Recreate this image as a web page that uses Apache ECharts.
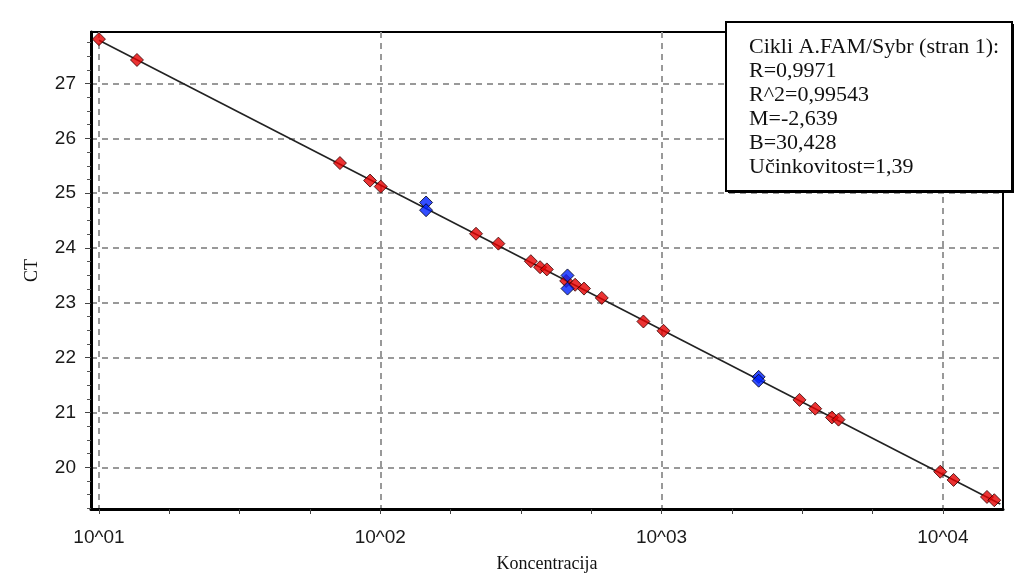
<!DOCTYPE html>
<html>
<head>
<meta charset="utf-8">
<script src="https://cdn.jsdelivr.net/npm/echarts@6/dist/echarts.min.js"></script>
<style>
  body { margin: 0; padding: 0; background: #fff; }
  #chart { width: 1017px; height: 578px; }
</style>
</head>
<body>
<div id="chart"></div>
<script>
// standard points (red) - koncentracija / CT
const redConc = [10, 13.65, 71.9, 92.0, 100.4, 219, 263, 343, 370, 391, 458, 493, 530, 613, 862, 1016, 3093, 3517, 4033, 4257, 9789, 10914, 14349, 15234];
const redCT = [27.81, 27.43, 25.55, 25.23, 25.12, 24.26, 24.08, 23.76, 23.65, 23.61, 23.40, 23.33, 23.26, 23.09, 22.66, 22.49, 21.23, 21.07, 20.91, 20.87, 19.92, 19.77, 19.46, 19.40];
// unknown samples (blue)
const blueConc = [145.5, 145.5, 463, 463, 2214, 2214];
const blueCT = [24.83, 24.69, 23.50, 23.26, 21.65, 21.58];
// regression line ends
const lineConc = [10, 16000];
const lineCT = [27.79, 19.33];

// ticks
const xMajor = [10, 100, 1000, 10000];
const xLabels = ["10^01", "10^02", "10^03", "10^04"];
const xMinor = [17.78, 31.62, 56.23, 177.8, 316.2, 562.3, 1778, 3162, 5623];
const yMajor = [20, 21, 22, 23, 24, 25, 26, 27];
const yMinor = [19.25, 19.5, 19.75, 20.25, 20.5, 20.75, 21.25, 21.5, 21.75, 22.25, 22.5, 22.75,
  23.25, 23.5, 23.75, 24.25, 24.5, 24.75, 25.25, 25.5, 25.75, 26.25, 26.5, 26.75, 27.25, 27.5, 27.75];

const infoLines = [
  "Cikli A.FAM/Sybr (stran 1):",
  "R=0,9971",
  "R^2=0,99543",
  "M=-2,639",
  "B=30,428",
  "Učinkovitost=1,39",
];

const xMin = 9.37, xMax = 16360;
const yMin = 19.24, yMax = 27.94;

const zip = (a, b) => a.map((v, i) => [v, b[i]]);

const chart = echarts.init(document.getElementById("chart"));
const tickFont = { fontFamily: "Liberation Sans", fontSize: 19, color: "#1a1a1a" };
const nameFont = { fontFamily: "Liberation Serif", fontSize: 18, color: "#111" };

chart.setOption({
  animation: false,
  backgroundColor: "#fff",
  grid: {
    left: 91, top: 32, right: 14, bottom: 65,
    show: true, borderColor: "#000", borderWidth: 2, backgroundColor: "#fff",
  },
  xAxis: [
    {
      type: "log", logBase: 10, min: xMin, max: xMax,
      name: "Koncentracija", nameLocation: "middle", nameGap: 46,
      nameTextStyle: nameFont,
      axisLine: { show: true, lineStyle: { color: "#000", width: 3 } },
      axisTick: { show: true, customValues: xMajor, length: 5, lineStyle: { color: "#444" } },
      axisLabel: {
        customValues: xMajor, margin: 19, ...tickFont,
        formatter: (v) => xLabels[Math.round(Math.log10(v)) - 1],
      },
      splitLine: { show: true, lineStyle: { color: "#999", width: 2, type: [6, 5] } },
    },
    {
      type: "log", logBase: 10, min: xMin, max: xMax, position: "bottom",
      axisLine: { show: false },
      axisTick: { show: true, customValues: xMinor, length: 5, lineStyle: { color: "#444" } },
      axisLabel: { show: false },
      splitLine: { show: false },
    },
  ],
  yAxis: [
    {
      type: "value", min: yMin, max: yMax,
      name: "CT", nameLocation: "middle", nameGap: 50,
      nameTextStyle: nameFont,
      axisLine: { show: true, lineStyle: { color: "#000", width: 3 } },
      axisTick: { show: true, customValues: yMajor, length: 6, lineStyle: { color: "#444" } },
      axisLabel: { customValues: yMajor, margin: 15, ...tickFont },
      splitLine: { show: true, lineStyle: { color: "#999", width: 2, type: [6, 5] } },
    },
    {
      type: "value", min: yMin, max: yMax, position: "left",
      axisLine: { show: false },
      axisTick: { show: true, customValues: yMinor, length: 4, lineStyle: { color: "#555" } },
      axisLabel: { show: false },
      splitLine: { show: false },
    },
  ],
  series: [
    {
      type: "line", data: zip(lineConc, lineCT), showSymbol: false, symbol: "none",
      lineStyle: { color: "#222", width: 1.6 }, z: 2,
    },
    {
      type: "scatter", data: zip(redConc, redCT), symbol: "diamond", symbolSize: 13,
      itemStyle: { color: "#e60000", borderColor: "#300", borderWidth: 1 }, z: 3,
    },
    {
      type: "scatter", data: zip(blueConc, blueCT), symbol: "diamond", symbolSize: 13,
      itemStyle: { color: "#0022ff", borderColor: "#001", borderWidth: 1 }, z: 4,
    },
  ],
  graphic: [
    { type: "rect", shape: { x: 728, y: 24, width: 286, height: 169 }, style: { fill: "#000" }, z: 100 },
    { type: "rect", shape: { x: 726, y: 22, width: 286, height: 169 },
      style: { fill: "#fff", stroke: "#000", lineWidth: 2 }, z: 101 },
    { type: "text", x: 749, y: 35, z: 102,
      style: { text: infoLines.join("\n"), font: '22px "Liberation Serif"', lineHeight: 24, fill: "#111" } },
  ],
});
</script>
</body>
</html>
